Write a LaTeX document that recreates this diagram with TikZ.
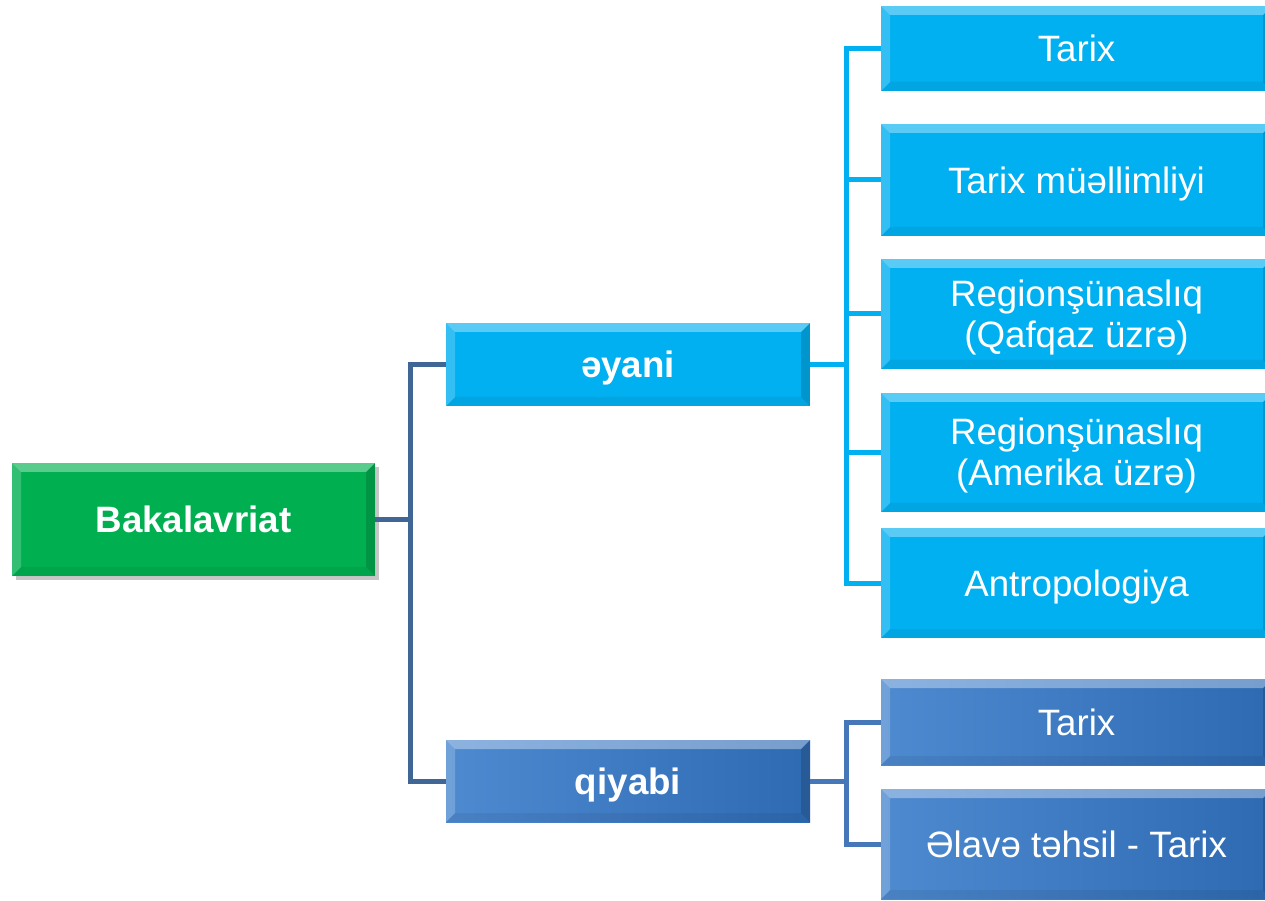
\documentclass[tikz,border=0pt]{standalone}
\usepackage{fontspec}
\setmainfont{Liberation Sans}
\usetikzlibrary{positioning,calc,shadows}
\definecolor{bakgreen}{RGB}{0,176,80}
\definecolor{eyanicyan}{RGB}{0,176,240}
\definecolor{qiyabiL}{RGB}{78,138,208}
\definecolor{qiyabiR}{RGB}{46,106,178}
\definecolor{linkdark}{RGB}{64,102,150}
\definecolor{linkblue}{RGB}{70,120,185}
\tikzset{
  bevel/.style={path picture={
    \fill [white,opacity=.35] (path picture bounding box.north west) -- (path picture bounding box.north east)
      -- ([shift={(-9pt,-9pt)}]path picture bounding box.north east) -- ([shift={(9pt,-9pt)}]path picture bounding box.north west) -- cycle;
    \fill [white,opacity=.2] (path picture bounding box.north west) -- (path picture bounding box.south west)
      -- ([shift={(9pt,9pt)}]path picture bounding box.south west) -- ([shift={(9pt,-9pt)}]path picture bounding box.north west) -- cycle;
    \fill [black,opacity=.15] (path picture bounding box.north east) -- (path picture bounding box.south east)
      -- ([shift={(-9pt,9pt)}]path picture bounding box.south east) -- ([shift={(-9pt,-9pt)}]path picture bounding box.north east) -- cycle;
    \fill [black,opacity=.06] (path picture bounding box.south west) -- (path picture bounding box.south east)
      -- ([shift={(-9pt,9pt)}]path picture bounding box.south east) -- ([shift={(9pt,9pt)}]path picture bounding box.south west) -- cycle;
  }},
  box/.style={inner sep=0pt, text=white, align=center, font=\fontsize{36.7}{41}\selectfont, bevel},
  one/.style={text height=26.3pt, text depth=0pt},
  two/.style={text height=67pt, text depth=0pt},
  bakbox/.style={box, one, fill=bakgreen, minimum width=363, minimum height=113,
    drop shadow={shadow xshift=4pt, shadow yshift=-4pt, opacity=.45}},
  cyanbox/.style={box, fill=eyanicyan, minimum width=391},
  bluebox/.style={box, left color=qiyabiL, right color=qiyabiR, minimum width=391},
  link/.style={line width=5pt, linkdark},
  cyanlink/.style={line width=5pt, eyanicyan},
  bluelink/.style={line width=5pt, linkblue}
}
\begin{document}
\begin{tikzpicture}[x=1pt,y=1pt]
  \useasboundingbox (0,0) rectangle (1265,900);
  \node [bakbox] (bak) at (193.5,380.5) {\bfseries Bakalavriat};
  \node [cyanbox, one, minimum width=364, minimum height=83] (eyani) at (628,535.5) {\bfseries əyani};
  \node [bluebox, one, minimum width=364, minimum height=82] (qiyabi) at (628,119) {\bfseries qiyabi};

  \node [cyanbox, one, minimum height=85] (e1) at (1076.5,851.5) {Tarix};
  \node [cyanbox, one, minimum height=112] (e2) at (1076.5,720) {Tarix müəllimliyi};
  \node [cyanbox, two, minimum height=110] (e3) at (1076.5,586) {Regionşünaslıq\\(Qafqaz üzrə)};
  \node [cyanbox, two, minimum height=119] (e4) at (1076.5,447.5) {Regionşünaslıq\\(Amerika üzrə)};
  \node [cyanbox, one, minimum height=110] (e5) at (1076.5,317) {Antropologiya};
  \node [bluebox, one, minimum height=86] (q1) at (1076.5,178) {Tarix};
  \node [bluebox, one, minimum height=110] (q2) at (1076.5,56) {Əlavə təhsil - Tarix};

  \draw [link] (bak.east) -- ++(35,0) coordinate (bj);
  \draw [link] (bj) |- (eyani.west);
  \draw [link] (bj) |- (qiyabi.west);
  \draw [cyanlink] (eyani.east) -- ++(36,0) coordinate (ej);
  \foreach \n in {e1,e2,e3,e4,e5}
    \draw [cyanlink] (ej) |- (\n.west);
  \draw [bluelink] (qiyabi.east) -- ++(36,0) coordinate (qj);
  \foreach \n in {q1,q2}
    \draw [bluelink] (qj) |- (\n.west);
\end{tikzpicture}
\end{document}
